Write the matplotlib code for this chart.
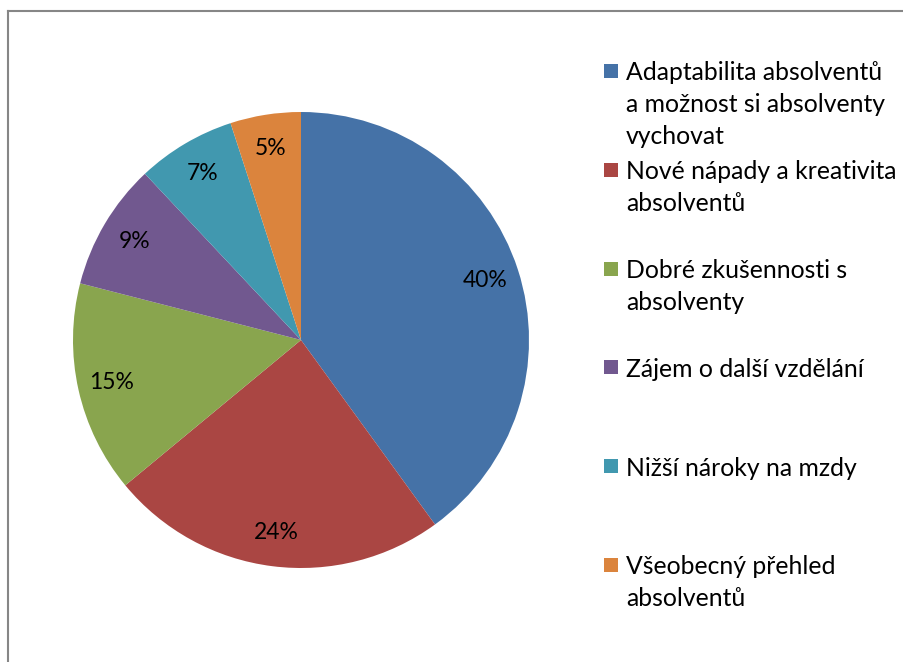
import matplotlib
matplotlib.use("Agg")
import matplotlib.pyplot as plt
from matplotlib.patches import Rectangle
from matplotlib.lines import Line2D

categories = [
    "Adaptabilita absolventů\na možnost si absolventy\nvychovat",
    "Nové nápady a kreativita\nabsolventů",
    "Dobré zkušennosti s\nabsolventy",
    "Zájem o další vzdělání",
    "Nižší nároky na mzdy",
    "Všeobecný přehled\nabsolventů",
]
values = [40, 24, 15, 9, 7, 5]
colors = ["#4572A7", "#AA4643", "#89A54E", "#71588F", "#4198AF", "#DB843D"]

FONT = "Lato"
FS_PCT = 16.5
FS_LEG = 17.8

W, H = 904, 662
fig = plt.figure(figsize=(W / 100, H / 100), dpi=100)

# frame border (left/top visible)
xl, yt = 7.5 / W, 1 - 10.5 / H
fig.add_artist(Line2D([xl, xl], [0, yt], transform=fig.transFigure, color="#868686", linewidth=1.5))
fig.add_artist(Line2D([xl, 1], [yt, yt], transform=fig.transFigure, color="#868686", linewidth=1.5))

cx, cy, R = 301, 340, 228
ax = fig.add_axes([(cx - R) / W, 1 - (cy + R) / H, 2 * R / W, 2 * R / H])
wedges, texts, autotexts = ax.pie(
    values, colors=colors, startangle=90, counterclock=False,
    autopct=lambda p: f"{p:.0f}%", pctdistance=0.85,
    wedgeprops=dict(linewidth=0),
    textprops=dict(fontsize=FS_PCT, family=FONT, color="black"),
)
ax.set_aspect("equal")
ax.set_xlim(-1, 1)
ax.set_ylim(-1, 1)

# legend
x_mark, x_text = 604, 626
y0, step, line_h = 71, 98.8, 32
for i, (lab, col) in enumerate(zip(categories, colors)):
    y = y0 + i * step
    fig.patches.append(Rectangle((x_mark / W, 1 - (y + 7) / H), 14 / W, 14 / H,
                                 transform=fig.transFigure, facecolor=col, edgecolor="none"))
    for j, line in enumerate(lab.split("\n")):
        fig.text(x_text / W, 1 - (y + j * line_h) / H, line, fontsize=FS_LEG, family=FONT,
                 va="center_baseline", ha="left", color="black")

fig.savefig("out.png", dpi=100)
